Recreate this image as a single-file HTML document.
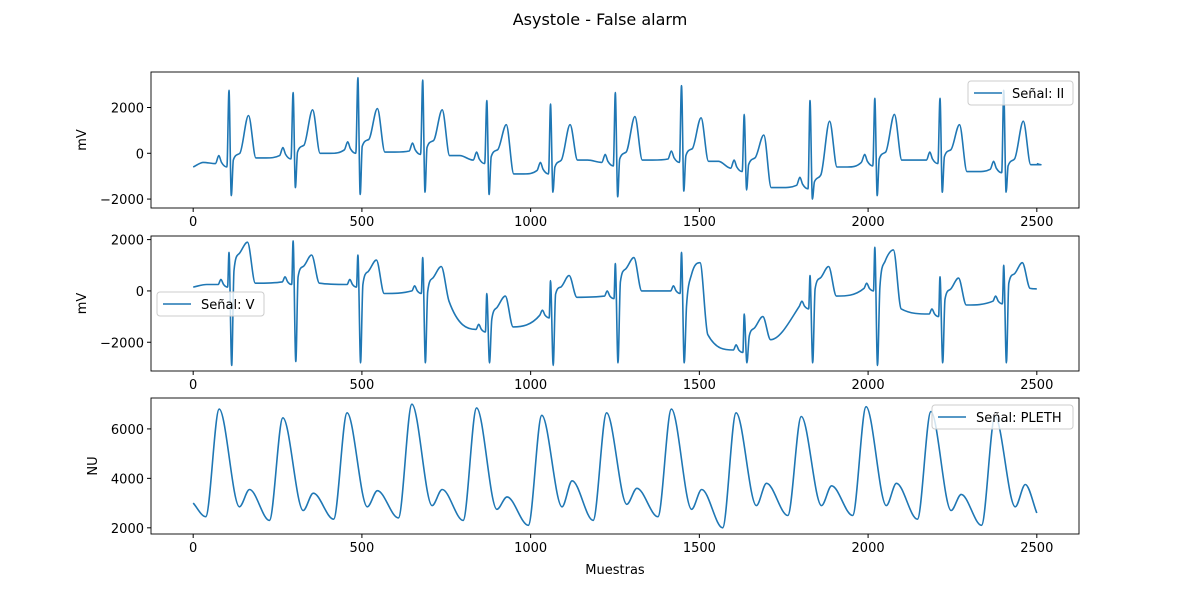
<!DOCTYPE html>
<html><head><meta charset="utf-8"><style>
body{margin:0;background:#fff;font-family:"Liberation Sans","DejaVu Sans",sans-serif}
svg text{font-family:"DejaVu Sans","Liberation Sans",sans-serif;fill:#000}
</style></head><body>
<svg id="c" width="1200" height="600" xmlns="http://www.w3.org/2000/svg">
<text x="600" y="25" text-anchor="middle" font-size="16">Asystole - False alarm</text>
<text x="615" y="574" text-anchor="middle" font-size="13">Muestras</text>
</svg>
<script>
// ---- data ----
const xTicks=[0,500,1000,1500,2000,2500];
// ECG II beats
const iiR=[106,296,488,680,870,1059,1251,1447,1633,1828,2020,2213,2402];
const iiPre=[-450,-100,150,100,-300,-750,-400,-250,-650,-1400,-400,-300,-700];
const iiRv=[2750,2650,3300,3200,2300,2150,2650,2950,1700,2300,2400,2400,2750];
const iiS=[-1850,-1500,-1800,-1700,-1800,-1700,-1900,-1650,-1600,-2000,-1850,-1700,-1700];
const iiT=[1650,1900,1950,1900,1250,1250,1600,1550,800,1400,1700,1250,1400];
const iiPost=[-200,0,50,-100,-900,-300,-300,-350,-1500,-600,-300,-800,-500];
const iiStart=-600, iiEnd=-450;
// ECG V beats
const vR=[106,296,488,680,870,1059,1251,1447,1633,1828,2020,2213,2402];
const vPre=[250,350,250,0,-1500,-950,-200,0,-2300,-600,100,-900,-400];
const vRv=[1500,1950,1400,1300,-100,400,1070,1500,-900,600,1700,550,1000];
const vS=[-2900,-2750,-2800,-2800,-2800,-2900,-2800,-2800,-2800,-2800,-2900,-2800,-2800];
const vT=[1900,1400,1200,950,-200,600,1300,1100,-1000,950,1600,500,1100];
const vPost=[300,300,-100,-400,-1400,-250,0,-1700,-1900,-200,-700,-550,100];
const vStart=150, vEnd=80;
// PLETH beats
const plPeakX=[77,266,456,648,840,1033,1225,1417,1609,1802,1994,2186,2376];
const plPeak=[6800,6450,6650,7000,6850,6550,6650,6800,6650,6500,6900,6700,6500];
const plTrough=[2450,2300,2350,2400,2300,2100,2300,2450,2000,2500,2500,2350,2100];
const plNotch=[2850,2700,2850,2900,2750,2850,2950,2750,2900,2900,2900,2700,2850];
const plSec=[3550,3400,3500,3550,3250,3900,3600,3550,3800,3700,3800,3350,3750];
const plStart=3000, plEnd=2600;
</script>
<script>
const svg=document.getElementById('c');const NS='http://www.w3.org/2000/svg';
const X0=151,X1=1079,xmin=-125,xmax=2625;
const sx=v=>X0+(v-xmin)/(xmax-xmin)*(X1-X0);
function mk(t,a,p){const e=document.createElementNS(NS,t);for(const k in a)e.setAttribute(k,a[k]);(p||svg).appendChild(e);return e;}
function mono(pts){ // monotone cubic path in pixel coords
  const n=pts.length,d=[],m=[];
  for(let i=0;i<n-1;i++)d.push((pts[i+1][1]-pts[i][1])/(pts[i+1][0]-pts[i][0]));
  m[0]=d[0];m[n-1]=d[n-2];
  for(let i=1;i<n-1;i++)m[i]=(d[i-1]*d[i]<=0)?0:(d[i-1]+d[i])/2;
  for(let i=0;i<n-1;i++){if(d[i]===0){m[i]=0;m[i+1]=0;continue;}const a=m[i]/d[i],b=m[i+1]/d[i],s=a*a+b*b;if(s>9){const t=3/Math.sqrt(s);m[i]=t*a*d[i];m[i+1]=t*b*d[i];}}
  let s='M'+pts[0][0].toFixed(1)+','+pts[0][1].toFixed(1);
  for(let i=0;i<n-1;i++){const h=(pts[i+1][0]-pts[i][0])/3;
    s+='C'+(pts[i][0]+h).toFixed(1)+','+(pts[i][1]+m[i]*h).toFixed(1)+' '+(pts[i+1][0]-h).toFixed(1)+','+(pts[i+1][1]-m[i+1]*h).toFixed(1)+' '+pts[i+1][0].toFixed(1)+','+pts[i+1][1].toFixed(1);}
  return s;}
function panel(name,top,bot,ymin,ymax,yticks,ylabel,pts,leg){
  const sy=v=>bot-(v-ymin)/(ymax-ymin)*(bot-top);
  const g=mk('g',{});
  const clip=mk('clipPath',{id:'cl'+name},g);mk('rect',{x:X0,y:top,width:X1-X0,height:bot-top},clip);
  const p=mk('path',{d:mono(pts.map(q=>[sx(q[0]),sy(q[1])])),fill:'none',stroke:'#1f77b4','stroke-width':1.6,'stroke-linejoin':'round','clip-path':'url(#cl'+name+')'},g);
  
  const fr=mk('rect',{x:X0,y:top,width:X1-X0,height:bot-top,fill:'none',stroke:'#000','stroke-width':0.9},g);
  
  xTicks.forEach(t=>{mk('line',{x1:sx(t),x2:sx(t),y1:bot,y2:bot+4,stroke:'#000'},g);
    const tx=mk('text',{x:sx(t),y:bot+18,'text-anchor':'middle','font-size':13},g);tx.textContent=t;
    });
  yticks.forEach(t=>{mk('line',{x1:X0-4,x2:X0,y1:sy(t),y2:sy(t),stroke:'#000'},g);
    const tx=mk('text',{x:X0-7,y:sy(t)+5,'text-anchor':'end','font-size':13},g);tx.textContent=(t<0?'\u2212'+(-t):t);
    });
  const yl=mk('text',{x:0,y:0,'text-anchor':'middle','font-size':13,transform:`translate(${leg.yl},${(top+bot)/2}) rotate(-90)`},g);yl.textContent=ylabel;
  
  const lg=mk('g',{},g);
  mk('rect',{x:leg.x,y:leg.y,width:leg.w,height:24,rx:3,fill:'#fff','fill-opacity':0.8,stroke:'#ccc'},lg);
  mk('line',{x1:leg.x+6,x2:leg.x+34,y1:leg.y+12,y2:leg.y+12,stroke:'#1f77b4','stroke-width':1.6},lg);
  const lt=mk('text',{x:leg.x+44,y:leg.y+17,'font-size':13},lg);lt.textContent=leg.t;
  
}
// build ECG II points
let ii=[[0,iiStart],[30,iiStart+200]];
iiR.forEach((r,i)=>{const p=iiPre[i];
  ii.push([r-40,p],[r-30,p+350],[r-22,p+50],[r-6,p-150],[r,iiRv[i]],[r+7,iiS[i]],[r+13,p+150],[r+32,p+450],[r+58,iiT[i]],[r+80,iiPost[i]],[r+110,iiPost[i]]);});
ii.push([2500,iiEnd]);
let vv=[[0,vStart],[40,vStart+100]];
vR.forEach((r,i)=>{const p=vPre[i];
  vv.push([r-32,p],[r-24,p+200],[r-16,p],[r-4,p-100],[r,vRv[i]],[r+8,vS[i]],[r+15,(vT[i]+vPost[i])/2-300],[r+30,vT[i]-450],[r+55,vT[i]],[r+78,vPost[i]]);});
vv.push([2500,vEnd]);
let pl=[[0,plStart]];
plPeakX.forEach((c,i)=>{pl.push([c-40,plTrough[i]],[c,plPeak[i]],[c+60,plNotch[i]],[c+90,plSec[i]]);});
pl.push([2500,plEnd]);
panel('ecg-ii',72,208,-2390,3550,[-2000,0,2000],'mV',ii,{x:968,y:81,w:105,t:'Señal: II',yl:86});
panel('ecg-v',236,371,-3120,2140,[-2000,0,2000],'mV',vv,{x:157,y:292,w:107,t:'Señal: V',yl:86});
panel('pleth',398,534,1750,7250,[2000,4000,6000],'NU',pl,{x:932,y:405,w:141,t:'Señal: PLETH',yl:97});
</script>
</body></html>
